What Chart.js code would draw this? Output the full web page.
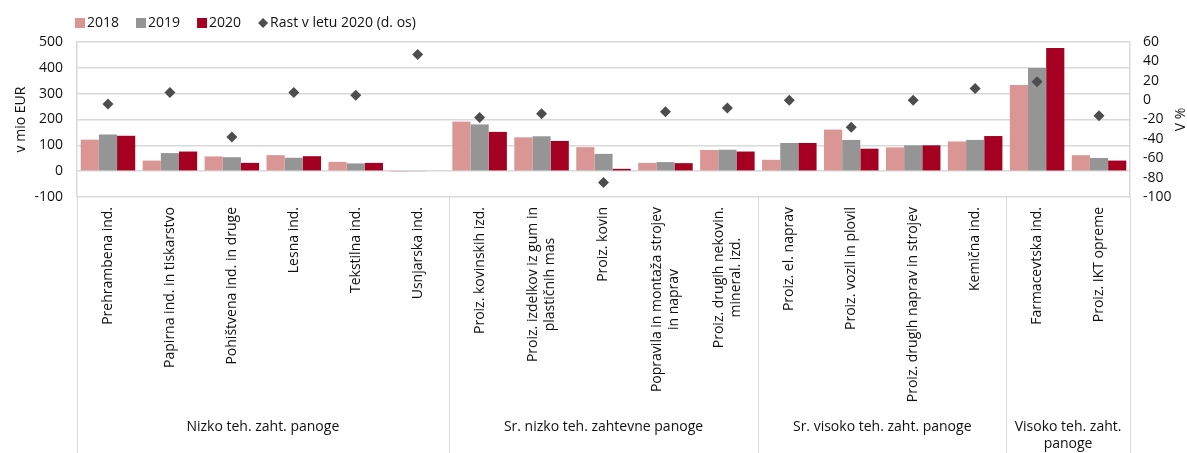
<!DOCTYPE html>
<html>
<head>
<meta charset="utf-8">
<script src="https://cdn.jsdelivr.net/npm/chart.js@4"></script>
<style>
  html, body { margin: 0; padding: 0; background: #fff; }
  #wrap { width: 1187px; height: 453px; }
</style>
</head>
<body>
<div id="wrap"><canvas id="chart" width="1187" height="453"></canvas></div>
<script>
const categories = [
  "Prehrambena ind.",
  "Papirna ind. in tiskarstvo",
  "Pohištvena ind. in druge",
  "Lesna ind.",
  "Tekstilna ind.",
  "Usnjarska ind.",
  "Proiz. kovinskih izd.",
  ["Proiz. izdelkov iz gum in", "plastičnih mas"],
  "Proiz. kovin",
  ["Popravila in montaža strojev", "in naprav"],
  ["Proiz. drugih nekovin.", "mineral. izd."],
  "Proiz. el. naprav",
  "Proiz. vozil in plovil",
  "Proiz. drugih naprav in strojev",
  "Kemična ind.",
  "Farmacevtska ind.",
  "Proiz. IKT opreme",
];
const groupNames = [
  ["Nizko teh. zaht. panoge"],
  ["Sr. nizko teh. zahtevne panoge"],
  ["Sr. visoko teh. zaht. panoge"],
  ["Visoko teh. zaht.", "panoge"],
];
const groupSizes = [6, 5, 4, 2];

const values2018 = [122, 41, 57, 62, 36, -1, 192, 131, 93, 32, 82, 44, 161, 92, 115, 334, 62];
const values2019 = [142, 70, 54, 52, 30, -2, 181, 135, 67, 35, 83, 109, 121, 100, 121, 399, 51];
const values2020 = [137, 76, 32, 58, 32, -3, 152, 117, 9, 31, 76, 109, 87, 100, 136, 477, 41];
const growth2020 = [-4, 8, -38, 8, 5, 47, -18, -14, -85, -12, -8, 0, -28, 0, 12, 19, -16];

const leftTicks = { min: -100, max: 500, step: 100 };
const rightTicks = { min: -100, max: 60, step: 20 };

const TEXT = "#111";
const GRID = "#d9d9d9";
const FONT_FAMILY = '"Open Sans", sans-serif';

function labelLines(l) {
  return Array.isArray(l) ? l : [l];
}

// legend, axis titles, rotated category labels and group row
const overlay = {
  id: "overlay",
  afterDraw(chart) {
    const { ctx, chartArea } = chart;
    const x = chart.scales.x;
    ctx.save();
    ctx.font = "14px " + FONT_FAMILY;
    ctx.fillStyle = TEXT;
    ctx.textBaseline = "middle";

    // legend
    let lx = 75;
    const ly = 23;
    const order = [1, 2, 3, 0];
    order.forEach((i) => {
      const ds = chart.data.datasets[i];
      if (ds.type === "line") {
        ctx.fillStyle = ds.backgroundColor;
        ctx.beginPath();
        ctx.moveTo(lx + 5, ly - 5);
        ctx.lineTo(lx + 10, ly);
        ctx.lineTo(lx + 5, ly + 5);
        ctx.lineTo(lx, ly);
        ctx.closePath();
        ctx.fill();
      } else {
        ctx.fillStyle = ds.backgroundColor;
        ctx.fillRect(lx, ly - 5, 10, 10);
      }
      ctx.fillStyle = TEXT;
      ctx.textAlign = "left";
      ctx.fillText(ds.label, lx + 12, ly);
      lx += 12 + ctx.measureText(ds.label).width + 17;
    });

    // axis titles
    [["v mio EUR", 21], ["V %", 1181]].forEach(([t, px]) => {
      ctx.save();
      ctx.translate(px, (chartArea.top + chartArea.bottom) / 2);
      ctx.rotate(-Math.PI / 2);
      ctx.textAlign = "center";
      ctx.fillText(t, 0, 0);
      ctx.restore();
    });

    // category labels
    const labelTop = chartArea.bottom + 10;
    const lineH = 17;
    chart.data.labels.forEach((lab, i) => {
      const lines = labelLines(lab);
      const w = Math.max(...lines.map((s) => ctx.measureText(s).width));
      ctx.save();
      ctx.translate(x.getPixelForValue(i), labelTop + w / 2);
      ctx.rotate(-Math.PI / 2);
      ctx.textAlign = "center";
      lines.forEach((s, k) => {
        ctx.fillText(s, 0, (k - (lines.length - 1) / 2) * lineH);
      });
      ctx.restore();
    });

    // group separators and names
    const n = chart.data.labels.length;
    const edge = (k) => {
      if (k <= 0) return chartArea.left;
      if (k >= n) return chartArea.right;
      return (x.getPixelForValue(k - 1) + x.getPixelForValue(k)) / 2;
    };
    ctx.strokeStyle = GRID;
    ctx.lineWidth = 1;
    let start = 0;
    const bounds = [0];
    groupSizes.forEach((s) => {
      start += s;
      bounds.push(start);
    });
    bounds.forEach((k) => {
      const px = Math.round(edge(k)) + 0.5;
      ctx.beginPath();
      ctx.moveTo(px, chartArea.bottom);
      ctx.lineTo(px, chart.height);
      ctx.stroke();
    });
    ctx.textAlign = "center";
    groupNames.forEach((g, gi) => {
      const cx = (edge(bounds[gi]) + edge(bounds[gi + 1])) / 2;
      g.forEach((s, k) => ctx.fillText(s, cx, 427 + k * 17));
    });
    ctx.restore();
  },
};

new Chart(document.getElementById("chart"), {
  type: "bar",
  data: {
    labels: categories,
    datasets: [
      {
        type: "line",
        label: "Rast v letu 2020 (d. os)",
        data: growth2020,
        yAxisID: "y1",
        showLine: false,
        pointStyle: "rectRot",
        pointRadius: 5.5,
        pointBorderWidth: 0,
        backgroundColor: "#4d4d4d",
        borderColor: "#4d4d4d",
        order: 0,
      },
      { label: "2018", data: values2018, backgroundColor: "#d99694", order: 1 },
      { label: "2019", data: values2019, backgroundColor: "#959595", order: 1 },
      { label: "2020", data: values2020, backgroundColor: "#a50021", order: 1 },
    ],
  },
  options: {
    responsive: false,
    animation: false,
    devicePixelRatio: 1,
    layout: { padding: { top: 42, left: 0, right: 0, bottom: 0 } },
    datasets: { bar: { categoryPercentage: 0.88, barPercentage: 1 } },
    plugins: { legend: { display: false }, tooltip: { enabled: false } },
    scales: {
      x: {
        offset: true,
        grid: { display: false },
        border: { display: false },
        ticks: { display: false },
        afterFit: (s) => { s.height = 256; },
      },
      y: {
        position: "left",
        min: leftTicks.min,
        max: leftTicks.max,
        ticks: { stepSize: leftTicks.step, autoSkip: false, color: TEXT, padding: 14, font: { family: FONT_FAMILY, size: 14 } },
        grid: { color: GRID, lineWidth: 1.5, drawTicks: false },
        border: { color: GRID, width: 1.5 },
        afterFit: (s) => { s.width = 77; },
      },
      y1: {
        position: "right",
        min: rightTicks.min,
        max: rightTicks.max,
        ticks: { stepSize: rightTicks.step, autoSkip: false, color: TEXT, padding: 13, font: { family: FONT_FAMILY, size: 14 } },
        grid: { drawOnChartArea: false, drawTicks: false },
        border: { color: GRID, width: 1.5 },
        afterFit: (s) => { s.width = 57; },
      },
    },
  },
  plugins: [overlay],
});
</script>
</body>
</html>
